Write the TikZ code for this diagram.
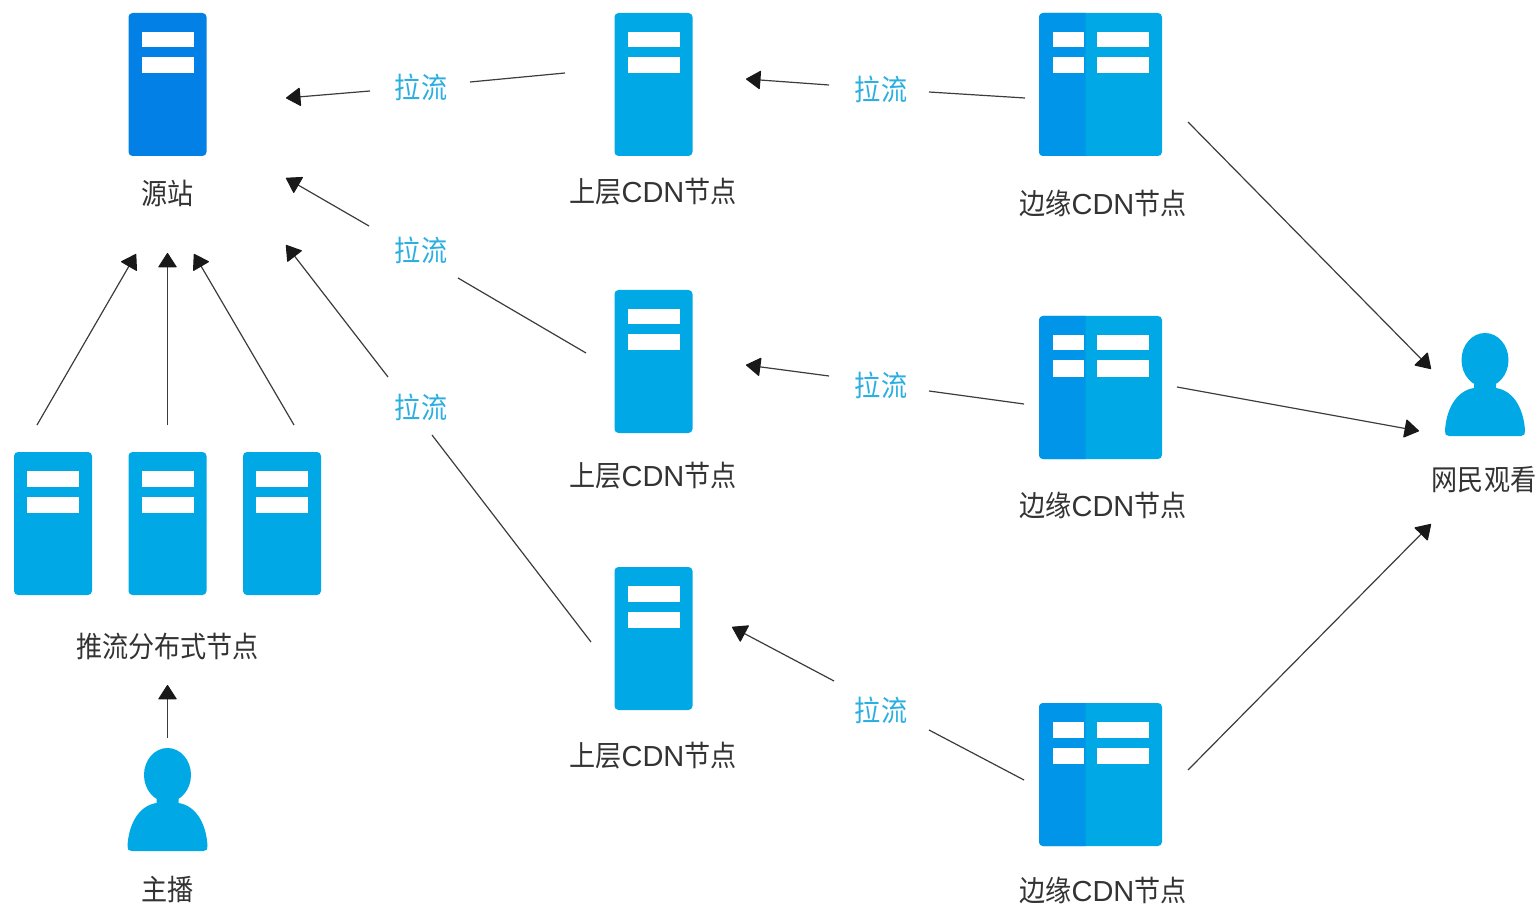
\documentclass[tikz,border=0pt]{standalone}
\usepackage{fontspec}
\setmainfont[FakeStretch=0.9]{Noto Sans CJK SC}
\newfontfamily\cdnfont{Liberation Sans}
\usetikzlibrary{arrows.meta}

\definecolor{srcblue}{HTML}{0380E5}
\definecolor{srvblue}{HTML}{00A9E6}
\definecolor{edgedark}{HTML}{0095E8}
\definecolor{pullblue}{HTML}{2BAEE0}
\definecolor{mantext}{HTML}{333333}
\definecolor{linegray}{HTML}{3C3C3C}

\newcommand{\cdn}{{\cdnfont CDN}}

\tikzset{
  lab/.style={text=mantext, font=\fontsize{29}{29}\selectfont, inner sep=0pt},
  pull/.style={text=pullblue, font=\fontsize{29}{29}\selectfont, inner sep=0pt},
  seg/.style={draw=linegray, line width=1.2pt},
  arr/.style={seg, -{Triangle[length=15pt,width=19pt,round,color=black!90]}},
  srvbox/.style={rectangle, rounded corners=4pt, inner sep=0pt, minimum width=78pt, minimum height=143pt},
  edgebox/.style={rectangle, rounded corners=4pt, inner sep=0pt, minimum width=123pt, minimum height=143pt},
  pics/srvpic/.style={code={
    \node[srvbox, fill=#1] (-box) at (0,0) {};
    \fill[white] (-26,-52.5) rectangle (26,-37);
    \fill[white] (-26,-27) rectangle (26,-11);
  }},
  pics/edgepic/.style={code={
    \node[edgebox, fill=srvblue] (-box) at (0,0) {};
    \fill[edgedark] (-15,-71.5) [rounded corners=4pt] -- (-61.5,-71.5) -- (-61.5,71.5) [sharp corners] -- (-15,71.5) -- cycle;
    \fill[white] (-48,-52.5) rectangle (-16.5,-37);
    \fill[white] (-48,-27) rectangle (-16.5,-11);
    \fill[white] (-3.5,-52.5) rectangle (48,-37);
    \fill[white] (-3.5,-27) rectangle (48,-11);
  }},
  pics/userpic/.style={code={
    \fill[srvblue] (0,27) ellipse (23.5pt and 27pt);
    \fill[srvblue] (-11,48) -- (11,48) -- (11,55)
      .. controls (30,58) and (39,78) .. (40,98)
      .. controls (40.5,101) and (39,103) .. (36,103) -- (-36,103)
      .. controls (-39,103) and (-40.5,101) .. (-40,98)
      .. controls (-39,78) and (-30,58) .. (-11,55) -- cycle;
  }},
}

\begin{document}
\begin{tikzpicture}[x=1pt,y=-1pt]
\useasboundingbox (0,0) rectangle (1540,909);

% servers
\pic (src) at (167.5,84.5) {srvpic=srcblue};
\pic (up1) at (653.5,84.5) {srvpic=srvblue};
\pic (up2) at (653.5,361.5) {srvpic=srvblue};
\pic (up3) at (653.5,638.5) {srvpic=srvblue};
\pic (push1) at (53,523.5) {srvpic=srvblue};
\pic (push2) at (167.5,523.5) {srvpic=srvblue};
\pic (push3) at (282,523.5) {srvpic=srvblue};
\pic (edge1) at (1100.5,84.5) {edgepic};
\pic (edge2) at (1100.5,387.5) {edgepic};
\pic (edge3) at (1100.5,774.5) {edgepic};

% people
\pic at (167.5,748) {userpic};
\pic at (1485,333) {userpic};

% names
\node[lab] (srcname) at (167.5,193) {源站};
\node[lab] (up1name) at (653,192) {上层\cdn 节点};
\node[lab] (up2name) at (653,476) {上层\cdn 节点};
\node[lab] (up3name) at (653,756) {上层\cdn 节点};
\node[lab] (edge1name) at (1103,203) {边缘\cdn 节点};
\node[lab] (edge2name) at (1103,505) {边缘\cdn 节点};
\node[lab] (edge3name) at (1103,890) {边缘\cdn 节点};
\node[lab] (pushname) at (167.5,647) {推流分布式节点};
\node[lab] (hostname) at (167.5,890) {主播};
\node[lab] (viewname) at (1484,480) {网民观看};

% pull labels
\node[pull] (pa) at (421,87) {拉流};
\node[pull] (pb) at (421,250) {拉流};
\node[pull] (pc) at (421,407) {拉流};
\node[pull] (pd) at (881,89) {拉流};
\node[pull] (pe) at (881,385) {拉流};
\node[pull] (pf) at (881,710) {拉流};

% free ends
\coordinate (pa1) at (565,73);   \coordinate (pa2) at (470,82);
\coordinate (pa3) at (370,91);   \coordinate (pa4) at (286,98);
\coordinate (pb1) at (586,353);  \coordinate (pb2) at (458,278);
\coordinate (pb3) at (369,226);  \coordinate (pb4) at (286,178);
\coordinate (pc1) at (591,642);  \coordinate (pc2) at (432,435);
\coordinate (pc3) at (388,377);  \coordinate (pc4) at (286,245);
\coordinate (pd1) at (1025,98);  \coordinate (pd2) at (929,92);
\coordinate (pd3) at (829,85);   \coordinate (pd4) at (746,79);
\coordinate (pe1) at (1024,404); \coordinate (pe2) at (929,391);
\coordinate (pe3) at (829,376);  \coordinate (pe4) at (746,365);
\coordinate (pf1) at (1024,780); \coordinate (pf2) at (929,730);
\coordinate (pf3) at (834,681);  \coordinate (pf4) at (732,627);

\coordinate (l1) at (37,425);     \coordinate (l1h) at (136,254);
\coordinate (l2) at (167.5,425);  \coordinate (l2h) at (167.5,253);
\coordinate (l3) at (294,425);    \coordinate (l3h) at (194,254);
\coordinate (h1) at (167.5,738);  \coordinate (h1h) at (167.5,685);
\coordinate (v1) at (1188,122);   \coordinate (v1h) at (1431,369);
\coordinate (v2) at (1177,387);   \coordinate (v2h) at (1419,431);
\coordinate (v3) at (1188,770);   \coordinate (v3h) at (1431,524);

% connectors
\foreach \p in {pa,pb,pc,pd,pe,pf}{
  \draw[seg] (\p1) -- (\p2);
  \draw[arr] (\p3) -- (\p4);
}
\foreach \a/\b in {l1/l1h,l2/l2h,l3/l3h,h1/h1h,v1/v1h,v2/v2h,v3/v3h}
  \draw[arr] (\a) -- (\b);

\end{tikzpicture}
\end{document}
